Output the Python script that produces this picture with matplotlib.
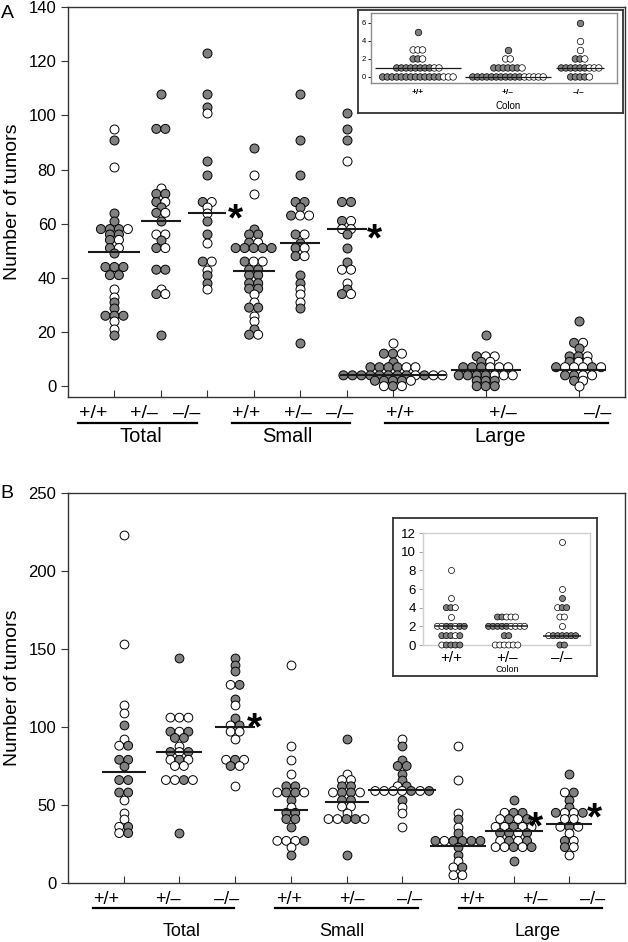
import matplotlib
matplotlib.use("Agg")
import matplotlib.pyplot as plt

plt.rcParams['font.family'] = ['Liberation Sans', 'DejaVu Sans']

W, H = 628, 942
GRAY = "#808080"
D = "\u2013"

# ---------------- data (row value + fill pattern, F = filled, O = open) -------
genos = ["+/+", "+/" + D, D + "/" + D]

# panel A, main
a_tot_wt_y = [95, 91, 81, 64, 61, 58, 56, 54, 51, 49, 44, 41, 36, 33, 31, 29, 26, 24, 21, 19]
a_tot_wt_f = ["O", "F", "O", "F", "F", "FFFO", "FF", "FO", "FO", "F", "FFF", "FF", "O", "O", "F", "F", "FFF", "O", "O", "F"]
a_tot_het_y = [108, 95, 73, 71, 68, 66, 64, 61, 56, 54, 51, 43, 36, 34, 19]
a_tot_het_f = ["F", "FF", "O", "FF", "FO", "F", "FO", "F", "OO", "F", "FO", "FF", "O", "FO", "F"]
a_tot_ko_y = [123, 108, 103, 101, 83, 78, 68, 66, 64, 61, 56, 53, 46, 43, 41, 38, 36]
a_tot_ko_f = ["F", "F", "F", "O", "F", "F", "FO", "O", "O", "F", "F", "O", "FO", "O", "F", "F", "O"]
a_sm_wt_y = [88, 78, 71, 58, 56, 53, 51, 46, 43, 41, 38, 36, 34, 31, 29, 26, 24, 21, 19]
a_sm_wt_f = ["F", "O", "O", "F", "FF", "FO", "FFFFF", "FOO", "FF", "FF", "FF", "FF", "O", "O", "FF", "O", "O", "F", "FO"]
a_sm_het_y = [108, 91, 78, 68, 66, 63, 56, 53, 51, 48, 41, 38, 36, 34, 31, 29, 16]
a_sm_het_f = ["F", "F", "F", "FF", "F", "FOO", "FO", "F", "FO", "FO", "F", "F", "O", "O", "O", "F", "F"]
a_sm_ko_y = [101, 95, 91, 83, 68, 61, 58, 56, 51, 46, 43, 38, 36, 34]
a_sm_ko_f = ["F", "F", "F", "O", "FF", "FO", "OO", "F", "F", "F", "OO", "O", "F", "FO"]
a_lg_wt_y = [16, 12, 9, 7, 4, 2, 0]
a_lg_wt_f = ["O", "FFO", "F", "FFFFOO", "FFFFFFFFOFOO", "FFFFO", "OFO"]
a_lg_het_y = [19, 11, 9, 7, 4, 2, 0]
a_lg_het_f = ["F", "FOO", "FO", "FFFOOO", "FFFFOOO", "FFF", "FFF"]
a_lg_ko_y = [24, 16, 14, 11, 9, 7, 4, 2, 0]
a_lg_ko_f = ["F", "FO", "F", "FFO", "FOO", "FOOOFO", "FFOO", "FO", "O"]
a_means = [49.6, 61, 64, 42.5, 52.8, 58, 4, 6, 6]

# panel A, inset (colon)
ai_wt_y = [5, 3, 2, 1, 0]
ai_wt_f = ["F", "OOO", "FFO", "FFFFFFFFOO", "FFFFFFFFFFFFFOOO"]
ai_het_y = [3, 2, 1, 0]
ai_het_f = ["F", "OO", "FFFFFFO", "FFFFFFFFFFFOOOOO"]
ai_ko_y = [6, 4, 3, 2, 1, 0]
ai_ko_f = ["F", "O", "O", "FFO", "FFFFFFOOO", "FFFFO"]
ai_medians = [1, 0, 1]

# panel B, main
b_tot_wt_y = [223, 153, 114, 109, 101, 92, 88, 79, 75, 66, 58, 53, 45, 41, 36, 32]
b_tot_wt_f = ["O", "O", "O", "O", "F", "O", "OF", "FF", "F", "FF", "FF", "O", "O", "O", "OF", "OF"]
b_tot_het_y = [144, 106, 97, 93, 88, 84, 79, 75, 66, 32]
b_tot_het_f = ["F", "OOO", "FOF", "FF", "O", "FOF", "OFO", "OO", "OOFO", "F"]
b_tot_ko_y = [144, 140, 136, 127, 118, 114, 106, 101, 97, 92, 79, 75, 62]
b_tot_ko_f = ["F", "F", "F", "OF", "F", "O", "F", "OF", "OO", "O", "OFO", "FO", "O"]
b_sm_wt_y = [140, 88, 79, 70, 62, 58, 53, 49, 45, 41, 36, 27, 23, 18]
b_sm_wt_f = ["O", "O", "O", "O", "FF", "OFFO", "F", "O", "FF", "FF", "F", "OOOF", "O", "F"]
b_sm_het_y = [92, 70, 66, 62, 58, 53, 49, 45, 41, 18]
b_sm_het_f = ["F", "O", "OO", "FF", "OFFO", "FF", "OO", "O", "OOFFO", "F"]
b_sm_ko_y = [92, 88, 79, 75, 70, 66, 62, 59, 53, 49, 45, 36]
b_sm_ko_f = ["O", "F", "F", "FF", "F", "F", "OF", "OOOOFOF", "F", "O", "O", "O"]
b_lg_wt_y = [88, 66, 45, 41, 36, 32, 27, 23, 18, 14, 10, 5]
b_lg_wt_f = ["O", "O", "O", "F", "O", "F", "FOFFFF", "F", "F", "O", "OF", "OO"]
b_lg_het_y = [53, 45, 41, 36, 32, 27, 23, 14]
b_lg_het_f = ["F", "OFF", "OFOF", "OOFOO", "FFOF", "OFOF", "OOFOF", "F"]
b_lg_ko_y = [70, 58, 53, 49, 45, 41, 36, 32, 27, 23, 18]
b_lg_ko_f = ["F", "OF", "F", "F", "FOOF", "OO", "OFO", "O", "FO", "FO", "O"]
b_means = [70.9, 83.9, 100, 46.9, 52.1, 59.4, 24, 33.1, 38.1]

# panel B, inset (colon)
bi_wt_y = [8, 5, 4, 3, 2, 1, 0]
bi_wt_f = ["O", "O", "FFO", "O", "OOFFOFF", "FFFOF", "OFFFF"]
bi_het_y = [3, 2, 1, 0]
bi_het_f = ["FFOOO", "FFFFFOOOO", "FF", "OOOOOO"]
bi_ko_y = [11, 6, 5, 4, 3, 2, 1, 0]
bi_ko_f = ["O", "O", "F", "OFF", "OO", "O", "OFFFFFF", "FF"]
bi_medians = [2, 2, 1]


def fx(x):
    return x / W


def fy(y):
    return 1 - y / H


def swarm(ax, xpos, rows, fills, upp, step, size, lw):
    # points sharing a value sit side by side, centred on the category
    for y, pat in zip(rows, fills):
        n = len(pat)
        xs = [xpos + (i - (n - 1) / 2) * step * upp for i in range(n)]
        cols = [GRAY if c == "F" else "white" for c in pat]
        ax.scatter(xs, [y] * n, s=size, c=cols, edgecolors="black",
                   linewidths=lw, zorder=3, clip_on=False)


def mean_line(ax, xpos, m, half_px, upp, lw=1.5):
    ax.plot([xpos - half_px * upp, xpos + half_px * upp], [m, m],
            color="#1a1a1a", lw=lw, zorder=4, solid_capstyle="butt")


def star(ax, x, y, fs=28):
    ax.annotate("*", xy=(x, y), xytext=(0, -0.55 * fs), textcoords="offset points",
                ha="center", va="baseline", fontsize=fs, fontweight="bold")


def style_main(ax):
    for sp in ax.spines.values():
        sp.set_color("#333333")
        sp.set_linewidth(1.0)
    ax.tick_params(axis="y", direction="out", length=5, labelsize=12, color="#333333")
    ax.tick_params(axis="x", direction="in", length=5, labelbottom=False, color="#333333")
    ax.set_ylabel("Number of tumors", fontsize=14, va="baseline")
    # baseline of the rotated label about 17 px from the figure edge
    ax.yaxis.set_label_coords((17 - 68) / 557, 0.5)


fig = plt.figure(figsize=(W / 100, H / 100), dpi=100)

# ---------------- panel A ----------------
axA = fig.add_axes([fx(68), fy(397), 557 / W, 390 / H])
axA.set_xlim(0, 12)
axA.set_ylim(-4, 140)
posA = [1, 2, 3, 4, 5, 6, 7, 9, 11]
uppA = 12 / 557
axA.set_xticks(posA)
axA.set_yticks(range(0, 141, 20))
style_main(axA)

groupsA = [(a_tot_wt_y, a_tot_wt_f), (a_tot_het_y, a_tot_het_f), (a_tot_ko_y, a_tot_ko_f),
           (a_sm_wt_y, a_sm_wt_f), (a_sm_het_y, a_sm_het_f), (a_sm_ko_y, a_sm_ko_f),
           (a_lg_wt_y, a_lg_wt_f), (a_lg_het_y, a_lg_het_f), (a_lg_ko_y, a_lg_ko_f)]
halfA = [26, 20, 19, 21, 20, 20, 53, 35, 27]
for p, (ys, fs), m, hw in zip(posA, groupsA, a_means, halfA):
    swarm(axA, p, ys, fs, uppA, 9, 42, 0.7)
    mean_line(axA, p, m, hw, uppA)
star(axA, 3.6, 65.3)
star(axA, 6.6, 58)

# ---------------- panel B ----------------
axB = fig.add_axes([fx(68), fy(883), 557 / W, 390 / H])
axB.set_xlim(0, 10)
axB.set_ylim(0, 250)
posB = list(range(1, 10))
uppB = 10 / 557
axB.set_xticks(posB)
axB.set_yticks(range(0, 251, 50))
style_main(axB)

groupsB = [(b_tot_wt_y, b_tot_wt_f), (b_tot_het_y, b_tot_het_f), (b_tot_ko_y, b_tot_ko_f),
           (b_sm_wt_y, b_sm_wt_f), (b_sm_het_y, b_sm_het_f), (b_sm_ko_y, b_sm_ko_f),
           (b_lg_wt_y, b_lg_wt_f), (b_lg_het_y, b_lg_het_f), (b_lg_ko_y, b_lg_ko_f)]
halfB = [22, 23, 20, 17, 22, 34, 28, 29, 23]
for p, (ys, fs), m, hw in zip(posB, groupsB, b_means, halfB):
    swarm(axB, p, ys, fs, uppB, 9, 40, 0.7)
    mean_line(axB, p, m, hw, uppB)
star(axB, 3.34, 106)
star(axB, 8.4, 42)
star(axB, 9.46, 48)

# ---------------- labels under the panels ----------------
catA_x = [93, 144, 187, 246, 298, 340, 400, 503, 598]
catB_x = [106, 168, 227, 289, 352, 410, 472, 535, 593]
for i, x in enumerate(catA_x):
    fig.text(fx(x), fy(413), genos[i % 3], ha="center", va="center", fontsize=14)
for i, x in enumerate(catB_x):
    fig.text(fx(x), fy(900), genos[i % 3], ha="center", va="center", fontsize=13)

for (x0, x1) in [(78, 197), (232, 350), (385, 608)]:
    fig.add_artist(plt.Line2D([fx(x0), fx(x1)], [fy(423), fy(423)], color="black", lw=1.6))
for (x0, x1) in [(93, 234), (275, 418), (459, 602)]:
    fig.add_artist(plt.Line2D([fx(x0), fx(x1)], [fy(908), fy(908)], color="black", lw=1.6))

for name, x in zip(["Total", "Small", "Large"], [141, 287, 500]):
    fig.text(fx(x), fy(436), name, ha="center", va="center", fontsize=14.5)
for name, x in zip(["Total", "Small", "Large"], [182, 342, 538]):
    fig.text(fx(x), fy(932), name, ha="center", va="center", fontsize=13)

fig.text(fx(7), fy(14), "A", ha="center", va="center", fontsize=14)
fig.text(fx(7), fy(494), "B", ha="center", va="center", fontsize=14)

# ---------------- inset A ----------------
boxA = fig.add_axes([fx(358), fy(113), 265 / W, 103 / H])
boxA.set_xticks([])
boxA.set_yticks([])
for sp in boxA.spines.values():
    sp.set_color("#333333")
    sp.set_linewidth(1.3)

inA = fig.add_axes([fx(371), fy(83), 246 / W, 70 / H])
inA.set_xlim(-1.04, 4.42)
inA.set_ylim(-0.67, 7.1)
posIA = [0, 2, 3.6]
uppIA = 5.46 / 246
inA.set_xticks([])
inA.set_yticks([0, 2, 4, 6])
inA.tick_params(axis="y", direction="out", length=2, labelsize=5.5, pad=1.5, width=0.6)
for sp in inA.spines.values():
    sp.set_color("#8c8c8c")
    sp.set_linewidth(1.0)
halfIA = [43, 43, 24]
for p, (ys, fs), m, hw in zip(posIA, [(ai_wt_y, ai_wt_f), (ai_het_y, ai_het_f), (ai_ko_y, ai_ko_f)],
                              ai_medians, halfIA):
    swarm(inA, p, ys, fs, uppIA, 4.7, 22, 0.5)
    mean_line(inA, p, m, hw, uppIA, lw=0.9)
for g, x in zip(genos, [418, 508, 579]):
    fig.text(fx(x), fy(93), g, ha="center", va="center", fontsize=6, fontweight="bold")
fig.text(fx(508), fy(106), "Colon", ha="center", va="center", fontsize=7)

# ---------------- inset B ----------------
boxB = fig.add_axes([fx(393), fy(676), 204 / W, 158 / H])
boxB.set_xticks([])
boxB.set_yticks([])
for sp in boxB.spines.values():
    sp.set_color("#333333")
    sp.set_linewidth(1.3)

inB = fig.add_axes([fx(423), fy(645), 167 / W, 112 / H])
inB.set_xlim(0.5, 3.5)
inB.set_ylim(0, 12)
uppIB = 3 / 167
inB.set_xticks([])
inB.set_yticks(range(0, 13, 2))
inB.tick_params(axis="y", direction="out", length=3, labelsize=9.5, pad=2, width=0.6, color="#999999")
for sp in inB.spines.values():
    sp.set_color("#d0d0d0")
    sp.set_linewidth(1.0)
halfIB = [16, 21, 19]
for p, (ys, fs), m, hw in zip([1, 2, 3], [(bi_wt_y, bi_wt_f), (bi_het_y, bi_het_f), (bi_ko_y, bi_ko_f)],
                              bi_medians, halfIB):
    swarm(inB, p, ys, fs, uppIB, 4.5, 19, 0.5)
    mean_line(inB, p, m, hw, uppIB, lw=1.1)
for g, x in zip(genos, [451, 507, 562]):
    fig.text(fx(x), fy(658), g, ha="center", va="center", fontsize=11)
fig.text(fx(507), fy(670), "Colon", ha="center", va="center", fontsize=6.5)

fig.savefig("out.png", dpi=100)
